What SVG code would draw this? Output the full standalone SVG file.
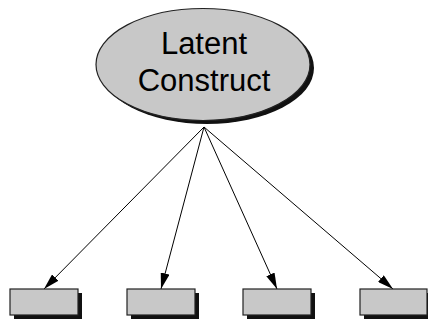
<svg xmlns="http://www.w3.org/2000/svg" width="428" height="322" viewBox="0 0 428 322">
<style>
.shadow{fill:#111111;stroke:none}
.shape{fill:#c8c8c8;stroke:#222222;stroke-width:1.2}
.lbl{font-family:"Liberation Sans",Arial,sans-serif;font-size:31px;fill:#000000;text-anchor:middle}
.conn{stroke:#000000;stroke-width:1;fill:none;marker-end:url(#arrow)}
</style>
<defs>
<marker id="arrow" viewBox="0 0 16 9" refX="16" refY="4.5" markerWidth="16" markerHeight="9" markerUnits="userSpaceOnUse" orient="auto">
<path d="M0,0 L16,4.5 L0,9 Z" fill="#000000"/>
</marker>
</defs>
<g id="connectors">
<line class="conn" x1="204" y1="127" x2="44" y2="289"/>
<line class="conn" x1="204" y1="127" x2="161" y2="289"/>
<line class="conn" x1="204" y1="127" x2="277" y2="289"/>
<line class="conn" x1="204" y1="127" x2="393" y2="289"/>
</g>
<g id="latent">
<ellipse class="shadow" cx="207" cy="68" rx="107" ry="56"/>
<ellipse class="shape" cx="203" cy="64.5" rx="107" ry="56"/>
<text class="lbl" x="204" y="54">Latent</text>
<text class="lbl" x="204" y="91">Construct</text>
</g>
<g id="ind1">
<rect class="shadow" x="14" y="293" width="68" height="26"/>
<rect class="shape" x="10" y="289" width="68" height="26"/>
</g>
<g id="ind2">
<rect class="shadow" x="131" y="293" width="68" height="26"/>
<rect class="shape" x="127" y="289" width="68" height="26"/>
</g>
<g id="ind3">
<rect class="shadow" x="247" y="293" width="68" height="26"/>
<rect class="shape" x="243" y="289" width="68" height="26"/>
</g>
<g id="ind4">
<rect class="shadow" x="364" y="293" width="68" height="26"/>
<rect class="shape" x="360" y="289" width="67" height="26"/>
</g>
</svg>
